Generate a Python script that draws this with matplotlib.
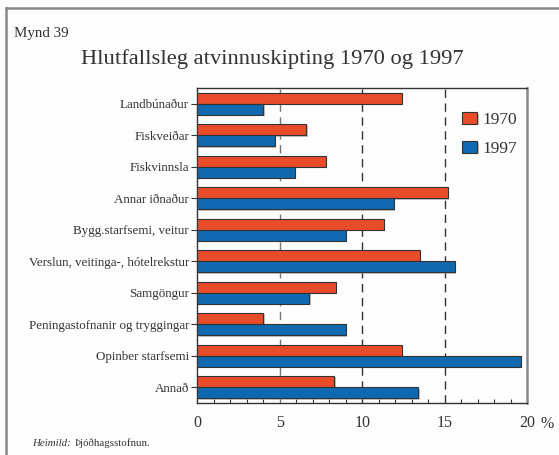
import matplotlib.pyplot as plt
import matplotlib.patheffects as pe
from matplotlib.lines import Line2D
import numpy as np

plt.rcParams['font.family'] = ['Liberation Serif', 'DejaVu Serif']

# atvinnugreinar, hlutfall af heildinni (%)
greinar = ['Landbúnaður', 'Fiskveiðar', 'Fiskvinnsla', 'Annar iðnaður',
           'Bygg.starfsemi, veitur', 'Verslun, veitinga-, hótelrekstur',
           'Samgöngur', 'Peningastofnanir og tryggingar',
           'Opinber starfsemi', 'Annað']
ar_1970 = [12.4, 6.6, 7.8, 15.2, 11.3, 13.5, 8.4, 4.0, 12.4, 8.3]
ar_1997 = [4.0, 4.7, 5.9, 11.9, 9.0, 15.6, 6.8, 9.0, 19.6, 13.4]
x_ticks = [0, 5, 10, 15, 20]

RED = '#e84c2a'
BLUE = '#1068b0'
TXT = '#333333'

fig = plt.figure(figsize=(5.59, 4.55), dpi=100, facecolor='#fdfdfd')
ax = fig.add_axes([0.353, 0.1143, 0.590, 0.6923])
ax.set_facecolor('#fdfdfd')

y = np.arange(len(greinar))
h = 0.355
shadow = [pe.SimplePatchShadow(offset=(1, -1), shadow_rgbFace='#999999', alpha=0.6),
          pe.Normal()]
b1 = ax.barh(y - h / 2, ar_1970, height=h, color=RED, edgecolor='#333333',
             linewidth=0.8, label='1970', zorder=3)
b2 = ax.barh(y + h / 2, ar_1997, height=h, color=BLUE, edgecolor='#333333',
             linewidth=0.8, label='1997', zorder=3)
for bar in list(b1) + list(b2):
    bar.set_path_effects(shadow)

ax.set_xlim(0, 20)
ax.set_ylim(len(greinar) - 0.5, -0.5)

# lóðréttar viðmiðunarlínur
ax.axvline(5, color='#777777', linestyle=(0, (6, 4)), linewidth=1.0, zorder=1)
for xv in (10, 15):
    ax.axvline(xv, color='#333333', linestyle=(0, (6, 4)), linewidth=1.0, zorder=1)

ax.set_yticks(y)
ax.set_yticklabels(greinar, fontsize=9.4, color=TXT)
ax.set_xticks(x_ticks)
ax.set_xticklabels([str(v) for v in x_ticks], fontsize=11.5, color=TXT)
ax.set_xticks(np.arange(0, 21, 1), minor=True)
ax.tick_params(axis='y', direction='out', length=4, width=0.8, color='#333333', pad=2)
ax.tick_params(axis='x', which='both', direction='in', length=3, width=0.8,
               color='#333333', pad=9)
ax.tick_params(axis='x', which='major', length=0)

for side in ('left', 'bottom', 'top'):
    ax.spines[side].set_color('#333333')
    ax.spines[side].set_linewidth(1.0)
ax.spines['right'].set_color('#888888')
ax.spines['right'].set_linewidth(1.8)

ax.text(1.062, -0.04, '%', transform=ax.transAxes, fontsize=11.5, color=TXT,
        ha='center', va='top')

leg = ax.legend(loc='upper left', bbox_to_anchor=(0.78, 0.945), frameon=False,
                fontsize=12.5, handlelength=0.92, handleheight=0.65,
                handletextpad=0.3, labelspacing=0.75, borderaxespad=0)
for t in leg.get_texts():
    t.set_color(TXT)

fig.text(0.487, 1 - 64 / 455, 'Hlutfallsleg atvinnuskipting 1970 og 1997',
         ha='center', va='baseline', fontsize=16.2, color=TXT)
fig.text(14 / 559, 1 - 37 / 455, 'Mynd 39', ha='left', va='baseline',
         fontsize=10.8, color=TXT)

src = fig.text(32 / 559, 1 - 446 / 455, 'Heimild:', ha='left', va='baseline',
               fontsize=7.8, style='italic', color=TXT)
ax.annotate('Þjóðhagsstofnun.', xy=(1, 0), xycoords=src, xytext=(2.5, 0),
            textcoords='offset points', ha='left', va='bottom', fontsize=7.8,
            color=TXT, annotation_clip=False)

# rammi efst og til vinstri
fig.add_artist(Line2D([5.5 / 559, 1], [1 - 7.5 / 455, 1 - 7.5 / 455],
                      transform=fig.transFigure, color='#888888', linewidth=1.8))
fig.add_artist(Line2D([5.5 / 559, 5.5 / 559], [0, 1 - 7.5 / 455],
                      transform=fig.transFigure, color='#888888', linewidth=1.8))

fig.savefig('out.png', dpi=100, facecolor=fig.get_facecolor())
